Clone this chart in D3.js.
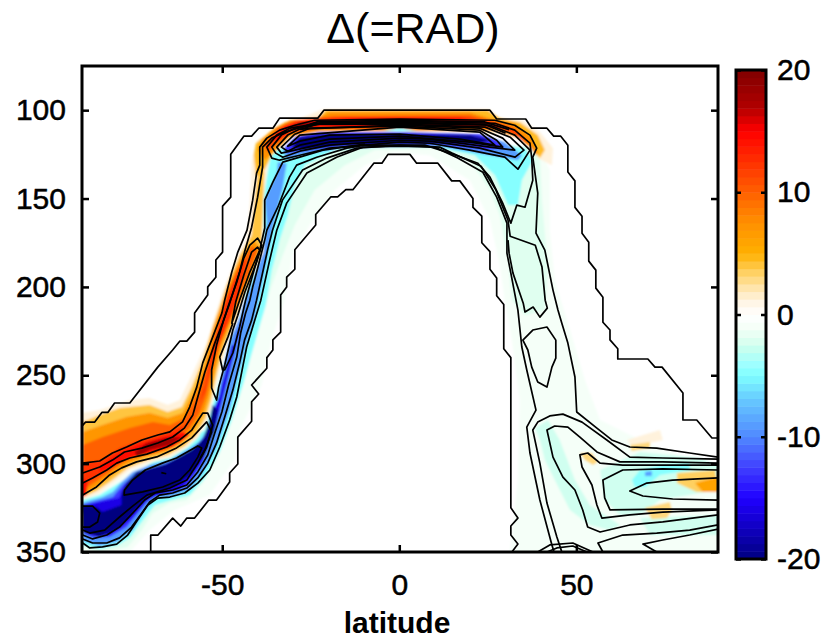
<!DOCTYPE html>
<html>
<head>
<meta charset="utf-8">
<script src="https://d3js.org/d3.v7.min.js"></script>
<style>
  html, body { margin: 0; background: #fff; }
  text { font-family: "Liberation Sans", Arial, sans-serif; fill: #000; }
  .tick-label { font-size: 30px; stroke: #000; stroke-width: 0.5px; }
</style>
</head>
<body>
<div id="chart"></div>
<script>
// axis ticks
const latTicks = [-50, 0, 50];
const presTicks = [100, 150, 200, 250, 300, 350];
const barTicks = [-20, -10, 0, 10, 20];

// colour bar stops (value, colour)
const stopValues = [-20, -17.5, -15, -12.5, -10, -7, -5, -4, -3, -2, -1, 0, 1, 2, 3.5, 5, 7.5, 10, 12.5, 15, 17, 20];
const stopColors = ["#000080", "#1000c0", "#2000ff", "#4040ff", "#5088ff", "#66c8ff", "#7fffff", "#a0ffff", "#c0fff0", "#e0fff0", "#f5fff8", "#ffffff",
    "#fff5e5", "#ffe8b8", "#ffd060", "#ffb000", "#ff9000", "#ff6000", "#ff3000", "#ff0000", "#b00000", "#800000"];

// shaded field, isolines of the anomaly as [lat, pressure]
const paleBase = [[-89.7,320.6],[-89.7,350],[-76.1,350],[-70.5,337.6],[-63.5,326.2],[-53.6,317.8],[-46.5,298],[-45.1,281],[-40.9,264],[-38.9,255.5],[-36.1,230.1],[-32.4,207.5],[-30.2,182],[-25.3,165],[-18.2,145.2],[-9.7,131.1],[-1.3,123.8],[8.6,125.5],[19.9,139.6],[25.6,162.2],[28.4,187.7],[29.8,207.5],[31.8,230.1],[34,264],[33.5,309.3],[31.2,350],[90,350],[90,303.6],[68,286.6],[56.7,275.3],[52.4,252.7],[48.2,224.4],[43.9,196.2],[42.5,167.9],[42.5,133.9],[39.7,122.6],[0.1,111.9],[-38.9,122.6],[-45.1,207.5],[-56.4,281]];
const mintArch = [[-89.4,347.1],[-85.5,350],[-80.9,348.8],[-76.7,347.1],[-72.7,337.6],[-69.6,327.9],[-64.8,322.3],[-60,320.6],[-55.5,311],[-51.6,298],[-47.9,279.3],[-45.1,262.3],[-43.1,248.7],[-40.9,231.8],[-38.6,216.5],[-36,199],[-32.9,182],[-29.5,165],[-23.9,145.2],[-15.4,131.1],[-6.9,122.6],[10,121.5],[19.9,128.3],[25.6,145.2],[28.4,159.4],[30.7,184.8],[31.8,207.5],[35.5,216],[41.1,213.1],[42,190.5],[40.3,150.9],[39.7,125.5],[36.9,120.9],[0.1,113],[-36.6,122.6],[-43.7,207.5],[-54.9,281],[-84.6,317.8],[-89.4,320.6]];
const mintLobe = [[38.3,279.9],[42,275.3],[45.3,286.6],[49.6,309.3],[53.8,323.4],[62.3,334.7],[59.5,337.6],[53.8,334.7],[48.2,326.2],[43.9,309.3],[41.1,298],[39.7,286.6]];
const mintUpper = [[56.7,303.6],[68,293.4],[84.9,296.8],[90,300.8],[90,314.9],[73.6,320.6],[68,329],[62.3,329],[58,320.6]];
const mintLower = [[68,330.8],[90,329],[90,340.4],[70.8,340.4]];
const cyanArch = [[-89.4,346],[-84.6,348.3],[-79.8,346.5],[-76.1,342],[-71.9,330.8],[-69,323.4],[-64.3,320.6],[-59.2,317.8],[-54.9,308.1],[-50.7,293.4],[-47.3,275.3],[-44.2,255.5],[-42.2,241.4],[-40,226.1],[-37.7,210.3],[-36,190.5],[-33.8,173.5],[-31.5,159.4],[-29.5,142.4],[-26.7,131.1],[-18.2,122.6],[-6.9,120.9],[10,120.9],[21.3,125.5],[27,136.8],[30.7,153.7],[33.5,153.7],[34.6,139.6],[37.7,128.3],[35.5,121.5],[0.1,112.4],[-36,122.6],[-43.7,207.5],[-54.9,281],[-84.6,317.8],[-89.4,320.6]];
const cyanRight = [[65.7,309.3],[68,303.6],[74.4,300.8],[82,299.7],[82,303.6],[73.6,306.4],[69.4,313.2],[66.5,313.2]];
const blueDot = [[69.4,304.7],[71.3,304.2],[71.3,307],[69.4,307]];
const blueSlant = [[-89.7,322.3],[-83.8,318.9],[-80.9,316],[-78.4,310.4],[-75.3,304.7],[-70.5,300.8],[-64.8,298],[-60,292.3],[-56.4,287.7],[-53.5,278.2],[-51.6,265.7],[-49.9,247],[-47.9,230.1],[-45.1,217.1],[-44.2,210.3],[-41.4,197.3],[-38.6,180.3],[-38,172.4],[-37.4,163.9],[-38,150.9],[-34.6,135.6],[-34.3,129.4],[-31.8,130],[-32.9,143.5],[-35.7,166.2],[-37.4,184.8],[-40.8,217.1],[-43.1,231.8],[-45.6,251],[-47.9,269.7],[-51.6,290.6],[-55.5,305.3],[-59.2,314.9],[-64.8,318.9],[-68.5,318.9],[-71.9,326.2],[-75.3,337.6],[-79.8,344.4],[-84.6,346.6],[-89.4,343.8]];
const royalSlant = [[-89.7,323.4],[-80.9,318.9],[-78.1,312.1],[-74.2,305.3],[-70.5,302.4],[-64.8,299.7],[-60,294.6],[-56.9,290.6],[-54.1,282.1],[-51.6,269.7],[-50.1,254.4],[-47.9,241.4],[-45.9,226.1],[-43.6,214.8],[-45.9,231.8],[-48.7,254.4],[-51.6,277],[-55.5,299.7],[-60,313.2],[-66.8,316],[-71.3,321.7],[-77,335.9],[-81.8,341.5],[-86.6,342],[-89.4,339.3]];
const deepSlant = [[-89.7,324],[-79.2,319.4],[-77.2,311.5],[-73.4,304.7],[-66.3,300.2],[-59.2,293.4],[-54.9,284.4],[-52.6,269.7],[-50.7,261.2],[-49.3,250],[-47.3,233],[-46.2,233],[-49,255.5],[-52.1,281],[-56.4,300.8],[-62,315],[-70.5,319.4],[-76.1,331.9],[-81.8,340.4],[-89.4,338.7]];
const navyBlob = [[-89.7,323.4],[-85.5,324.5],[-83.8,327.4],[-78.4,323.4],[-78.4,316],[-77,310.9],[-74.2,304.7],[-65.7,300.2],[-58.3,291.7],[-55.5,286.6],[-53.5,275.3],[-52.7,266.8],[-51.3,269.7],[-52.1,281],[-54.9,295.1],[-59.2,306.4],[-63.5,313.2],[-70.5,317.8],[-74.7,326.2],[-79,336.4],[-84.6,341.5],[-89.4,338.7]];
const blueTop = [[-32.9,122.6],[-29.5,115.3],[-22.5,112.4],[0.1,112.4],[22.7,113.6],[29.8,118.1],[34.6,125.5],[33.5,128.3],[25.6,125.5],[11.4,120.4],[0.1,120.4],[-16.8,121.5],[-28.1,125.5],[-31.8,128.3]];
const royalTop = [[-32.6,121.5],[-29,114.7],[-22.5,112.4],[0.1,112.4],[22.7,113.6],[27.5,117],[29.8,121.5],[24.2,122.6],[11.4,119.8],[0.1,119.8],[-16.8,120.9],[-28.1,123.2],[-31.5,124.3]];
const navyTop = [[-30.4,121],[-28.1,115.3],[-19.7,113.6],[0.1,113.6],[19.9,114.1],[26.1,117],[22.7,118.7],[0.1,119.2],[-16.8,119.8],[-26.7,122.6]];

const warmOuter = [[-89.7,271.4],[-84.6,269.7],[-76.1,264],[-70.5,262.9],[-65.4,266.8],[-62,264],[-58.3,248.7],[-54.4,231.8],[-49.9,202.9],[-46.5,186],[-43.1,172.4],[-42.2,152.6],[-41.7,128.3],[-40,117],[-32.9,108.5],[-21.6,99.5],[25.6,99.5],[28.4,104.5],[34.9,105.7],[39.7,112.4],[43.4,121.5],[43.1,131.1],[39.1,127.1],[38.8,122.6],[36.3,118.1],[29.8,114.1],[22.7,112.4],[0.1,111.9],[-22.5,111.9],[-31,115.3],[-34.3,122.6],[-36.6,126.6],[-37.4,135.6],[-38.3,150.9],[-38.3,173.5],[-38.3,180.3],[-41.4,194.5],[-44.2,207.5],[-45.9,218.8],[-48.7,232.9],[-50.7,247],[-52.7,264],[-54.1,275.3],[-56.9,285.5],[-60,291.2],[-64.8,296.8],[-70.5,299.7],[-76.1,303.6],[-80.9,311],[-84.6,316.6],[-89.4,320.6]];
const warm3 = [[-89.4,276.5],[-84.6,272.5],[-79,268.5],[-70.5,266.8],[-65.4,270.8],[-61.4,268],[-58.6,256.7],[-55.5,241.4],[-52.7,222.7],[-48.7,199],[-45,182],[-41.7,170.7],[-40.8,150.9],[-40,135],[-38.1,135],[-38.9,173.5],[-38.9,180.3],[-41.7,194.5],[-44.5,207.5],[-46.5,218.8],[-49.3,232.9],[-51.3,247],[-53.2,264],[-54.7,274.2],[-57.5,284.4],[-60.6,290],[-65.4,295.1],[-71,298],[-76.7,302.5],[-81.8,310.4],[-85.5,315.5],[-89.4,318.9]];
const warm5 = [[-89.4,282.1],[-83.8,278.2],[-77,273.6],[-70.5,271.4],[-65.4,274.2],[-61.2,271.4],[-57.8,258.4],[-54.9,243.1],[-52.7,224.4],[-48.5,200.1],[-44.8,183.7],[-41.1,173.5],[-39.4,177.5],[-42,193.3],[-44.8,206.3],[-47,217.6],[-49.9,231.8],[-51.8,245.9],[-53.8,262.8],[-55.5,273],[-58.3,282],[-61.4,288.3],[-66.2,293.4],[-71.9,296.2],[-77.3,300.8],[-82.4,308.7],[-86,313.8],[-89.4,317.2]];
const warm8 = [[-89.4,289.5],[-83.8,284.9],[-76.1,279.9],[-69.6,276.5],[-64.8,278.2],[-60.6,274.2],[-56.9,260],[-54.1,243.1],[-52.1,228.4],[-49,205.8],[-45.6,189.4],[-41.7,176.9],[-40,179.2],[-42.5,192.8],[-45.3,205.2],[-47.6,216.5],[-50.4,230.1],[-52.4,244.2],[-54.4,261.2],[-56.4,271.4],[-59.2,279.9],[-62.6,286.6],[-67.1,291.7],[-72.5,294.6],[-77.8,299],[-82.9,306.4],[-86.6,311.5],[-89.4,314.9]];
const warm11 = [[-88.8,299.7],[-83.8,298],[-79,291.2],[-72.7,286.6],[-65.7,282.7],[-60.6,278.2],[-57.2,269.7],[-54.9,255.5],[-52.7,232.9],[-49.9,213.1],[-47,197.3],[-44.2,186],[-43.1,183.7],[-45.1,204.6],[-47.3,216],[-50.1,229],[-53,244.2],[-54.9,259.5],[-59.2,276.5],[-63.2,284.4],[-67.7,289.5],[-72.7,292.3],[-78.1,297.4],[-83.2,304.7],[-86.9,309.3],[-89.7,313.8],[-89.7,299.7]];
const red14 = [[-84.6,301.9],[-81,296.3],[-74.2,289.5],[-66.8,284.9],[-61.2,282.1],[-59.2,283.8],[-64,290.6],[-69.6,294],[-76.1,296.8],[-81,301.9],[-84.6,304.7]];
const redAxis = [[-89.7,307.6],[-88,311],[-88.3,317.8],[-89.7,318.9]];
const dark18 = [[-74.7,293.4],[-71.3,288.3],[-65.7,285.5],[-61.4,284.9],[-64.8,289.5],[-70.5,292.3],[-73.9,296.2]];
const top3 = [[-41.1,125.5],[-40.5,118.7],[-36,111.3],[-32.3,106.8],[-23,104.5],[-20.8,100],[25,100],[28.4,104.5],[34,106.8],[39.1,114.1],[41.1,122.6],[39.7,127.1],[37.1,121.5],[34,115.8],[27,111.9],[0.1,111.6],[-22.5,111.9],[-31,115.3],[-36,125.5],[-38.9,136.8],[-40.5,136.8]];
const top6 = [[-40,122.6],[-38.9,117],[-35.2,110.2],[-30.9,105.7],[-22.5,104],[-19.7,101.1],[19.9,101.1],[25.6,104.5],[32.6,107.4],[37.4,115.8],[39.1,123.8],[38.6,125.5],[36.9,120.9],[33.5,115.3],[27,111.3],[0.1,111.3],[-22.5,111.3],[-30.4,114.1],[-35.2,122.6],[-38,128.3]];
const top10 = [[-38.3,119.8],[-34.3,110.2],[-29.5,105.7],[-18.2,103.4],[19.9,102.8],[27,106.2],[32.6,110.2],[36.9,119.8],[35.5,118.1],[31.3,112.4],[25.6,110.2],[0.1,110.7],[-22.5,110.7],[-30.4,113],[-35.2,119.8],[-37.1,123.8]];
const top14 = [[-36.6,117],[-32.3,108.5],[-26.7,105.7],[-14,104],[17.1,104],[25.6,106.8],[31.3,111.3],[33.5,114.1],[28.4,109.6],[0.1,109.6],[-22.5,109.6],[-30.4,111.3],[-34.3,117]];
const top18 = [[-32.3,111.3],[-28.1,106.8],[0.1,105.1],[22.7,106.8],[29.8,111.3],[22.7,109],[0.1,108.5],[-22.5,108.5],[-29.5,110.2]];
const topLens = [[-4.7,111.3],[0.1,109.6],[4.9,111.3],[0.1,111.9]];
const patchFaint = [[64.3,286.6],[73.6,281],[74.4,286.6],[66,290.6]];
const patchA = [[65.1,289.4],[70.8,287.7],[70.8,291.2],[65.6,292.8]];
const patchB = [[51,294],[54.4,294],[56.1,299],[54.7,300.8],[52.4,298]];
const patchC = [[69.4,325],[76.4,321.7],[77,326.2],[75.6,330.8],[71.3,331.4]];
const patchD = [[78.4,305.3],[89.2,303.6],[90,316],[84,316],[78.4,311]];
const patchE = [[83.5,311],[90,307.6],[90,316],[85.7,316]];

// level of each shaded region, bottom layer first
const fillLevels = [-1, -2, -2.5, -2.5, -2.5, -4.8, -4.8, -9, -9, -13, -16, -20, -9, -13, -20,
    1.2, 4, 7, 10, 12.5, 14.5, 14.5, 18, 4.5, 7.5, 11, 14.5, 18, -4.5, 1.2, 3, 3, 3, 3.5, 6];
const fillRegions = [paleBase, mintArch, mintLobe, mintUpper, mintLower, cyanArch, cyanRight, blueDot, blueSlant, royalSlant, deepSlant, navyBlob, blueTop, royalTop, navyTop,
    warmOuter, warm3, warm5, warm8, warm11, red14, redAxis, dark18, top3, top6, top10, top14, top18, topLens, patchFaint, patchA, patchB, patchC, patchD, patchE];

// black contours as [lat, pressure]
const outerUpper = [[-89.7,279],[-88.6,276.5],[-86,276.5],[-84,271],[-82.3,271],[-80.4,265.7],[-76.1,265.7],[-68.2,245.4],[-64,235.7],[-62,230.7],[-60,230.7],[-57.8,225.6],[-57.8,214.8],[-54.1,204.6],[-54.1,200],[-51.8,194.5],[-51.8,184.8],[-49.9,180.3],[-49.9,154.3],[-47.6,149.2],[-47.6,125],[-43.9,114.7],[-41.7,114.7],[-39.7,110.2],[-35.7,110.2],[-33.8,104.5],[-23,104.5],[-21.3,100],[25.6,100],[27.5,105],[35.7,105],[37.4,110.2],[41.7,110.2],[43.6,114.7],[45.6,114.7],[47.6,119.8],[47.6,135],[49.6,140],[49.6,155],[51.6,160],[51.6,169.6],[53.5,174.7],[53.5,185.4],[55.5,190.5],[55.5,200.7],[57.5,205.8],[57.5,220],[59.5,224.4],[59.5,230],[61.7,235],[61.7,240.8],[70.2,240.8],[72.2,245.4],[74.2,245.4],[80.1,260],[80.1,275.3],[84,275.3],[88.3,285.5],[90,285.5]];
const outerLower = [[-70.2,350],[-70.2,340.5],[-68.2,340.5],[-64,330.8],[-61.7,335.3],[-60,330.8],[-57.8,330.8],[-53.8,320.6],[-51.6,320.6],[-47.9,310.4],[-47.9,305.3],[-45.6,300.2],[-45.6,285],[-41.7,276],[-41.7,265],[-39.7,260.6],[-41.7,255.5],[-37.4,246],[-37.4,240],[-35.7,235.7],[-35.7,230],[-33.5,225.6],[-33.5,204.6],[-31.8,200],[-31.8,194.5],[-29.5,190],[-29.5,179],[-23.6,165],[-23.6,159],[-19.3,149],[-17.4,149],[-15.1,145],[-13.1,145],[-7.2,130],[-4.9,130],[-3.2,125],[3,125],[4.9,130],[10.9,130],[14.8,140],[17.1,140],[20.8,150],[20.8,155],[23.3,160],[23.3,175],[25.6,180],[25.6,190],[27.5,195],[27.5,205],[29.5,210],[29.5,235],[31.5,240],[31.5,325],[33.5,330.8],[31.5,335.3],[31.5,340.4],[33.5,345.5],[31.8,350]];
const lineU1 = [[-89.4,299.7],[-84.6,298.5],[-81,294],[-77,290.6],[-72.7,286.6],[-68.2,283.8],[-64.8,282],[-61.2,276.4],[-59.2,268],[-57.2,256.7],[-55.5,243],[-52.7,228.4],[-50.1,214.8],[-49.3,207.5],[-47.3,191.6],[-45.6,180.3],[-43,167.9],[-41.4,150.9],[-40.3,135.6],[-39.4,131.1],[-39.4,120.9],[-37.4,115.8],[-33.8,111.3],[-29.5,108.5],[-23.9,105.7],[0.1,105.1],[27,105.7],[32.6,108.5],[36.9,114.1],[38.8,121.5],[37.7,126.6],[39.1,146.9],[38.6,169.6],[41.1,179.2],[43.4,201.8],[44.8,213.1],[45.9,220.5],[47.6,231.8],[49.6,251],[50.1,270.8],[55.8,279.9],[60,286.6],[65.1,290.6],[72.7,291.2],[82,294],[90,296.3]];
const lineU2 = [[-89.4,305.3],[-84.6,301.9],[-81,298],[-77.6,293.4],[-72.7,291.2],[-68.2,288.3],[-64,284.9],[-60.7,279.9],[-58.3,272.5],[-56.9,262.3],[-54.9,248.2],[-52.1,231.8],[-49.9,220.5],[-47.9,209.2],[-45.1,191.6],[-43.7,180.3],[-41.7,166.2],[-40,149.2],[-38.6,132.2],[-38.6,120.9],[-36,115.8],[-32.3,112.4],[-23.9,107.4],[0.1,106.2],[27,107.4],[32.6,111.3],[36.9,118.7],[37.4,127.1],[37.7,139.6],[35.5,154.9],[33.2,153.7],[31.5,163.9],[29.2,152.6],[25.6,137.9],[22.2,130],[14.3,124.3],[7.2,119.8],[-9.7,119.8],[-14.8,121.5],[-23.3,126.6],[-29,131.1],[-31,137.9],[-34.3,154.9],[-37.4,167.9],[-38,173.5],[-40,189.4],[-41.4,200.1],[-42.2,207.5],[-43.4,214.8],[-44.8,226.1],[-45.9,239.7],[-48.2,255.5],[-50.1,270.8],[-52.1,282.7],[-54.1,295.1],[-56.9,304.7],[-60,312.1],[-64,314.9],[-69,316.6],[-71.9,320.6],[-75.3,328],[-79,335.9],[-82.6,340.4],[-86.6,342.6],[-89.4,340.4]];
const lineA = [[-89.4,344.9],[-87.4,347.7],[-83.8,347.1],[-79.8,345.5],[-76.7,340.4],[-73.9,331.9],[-71,323.4],[-68.2,319.5],[-64.8,318.9],[-60.6,316.6],[-56.9,311],[-53.5,303.6],[-50.7,290.6],[-47.9,275.3],[-45.9,262.3],[-44.5,248.2],[-43.1,234],[-41.4,222.7],[-39.1,207.5],[-36.6,184.8],[-34.6,167.9],[-31.8,152.6],[-26.1,135.6],[-17.7,126.6],[-10.3,120.9],[0.1,120.4],[10,120.9],[16.5,127.1],[23.6,135.1],[27.5,149.2],[30.4,163.9],[30.4,180.9],[31.5,192.2],[33.5,213.1],[34.6,234],[36,247],[38.6,269.7],[36,279.3],[36.9,294],[39.7,320.6],[43.1,346],[43.7,350]];
const lineB = [[-89.4,342.6],[-86.6,344.9],[-82.6,344.9],[-79,342],[-75.6,335.9],[-72.7,327.9],[-70.5,321.7],[-67.7,317.8],[-64,316.6],[-60,313.8],[-56.9,308.1],[-54.1,299.7],[-51.6,288.3],[-49.3,273.6],[-47,258.4],[-45.1,243.1],[-43.7,230.1],[-41.7,218.8],[-40.3,207.5],[-37.2,179.2],[-35.8,167.9],[-33,150.9],[-27.3,133.9],[-20.5,127.1],[-12,121.5],[0.1,119.8],[11.4,120.9],[14.9,124.3],[23.1,131.7],[27.3,145.2],[30.7,162.2],[31.3,171.3],[38.4,176.4],[40.3,188.8],[41.2,207.5],[41.8,212],[39.7,217.1],[37.8,211.4],[35.5,214.2],[35,209.2],[32.1,192.2],[31,180.9],[30.7,173.5]];
const lineU3 = [[-89.4,311],[-86.6,308.1],[-82.6,303.6],[-79.8,299.7],[-76.1,296.8],[-71.3,294.6],[-65.7,290.6],[-62,286.6],[-58.6,281],[-55.5,271.4],[-54.1,271.4],[-52.7,278.2],[-54.4,290.6],[-56.9,299.7],[-60,309.3],[-64.8,313.8],[-71.3,317.8],[-75.3,324],[-79,330.2],[-83.2,337.6],[-87.4,339.3],[-89.4,337.6]];
const lineU4 = [[-89.4,317.7],[-85.5,313.2],[-81.8,306.4],[-78.4,302.4],[-74.2,299],[-68.5,296.2],[-62.9,291.1],[-58.6,285.4],[-54.4,276.4],[-53,282.1],[-54.9,292.3],[-56.2,296.8]];
const lineG = [[-47,220.5],[-48.4,228.4],[-50.7,239.7],[-49.9,247],[-49.3,247],[-47,237.4],[-45.1,222.7],[-43.4,207.5],[-41.4,193.3],[-39.4,179.2],[-38,166.7],[-38,157.7],[-38,150.9],[-35.7,140.7],[-32.9,129.4],[-28.1,126.6],[-21.6,122.6],[-9.7,119.2]];
const topDenseA = [[-28,110],[-23,106.5],[0.1,105.7],[24,106.6],[31,111]];
const topDenseB = [[-28,111],[-22,107.1],[0.1,106.8],[24,108],[30,113]];
const tick = [[-67.2,305.1],[-65.8,305.7]];
const lobeB = [[45.9,350],[44.5,341.5],[41.7,322.3],[39.7,299.7],[37.7,281],[39.1,276.5],[42.5,273],[46.2,272],[51.6,276.5],[58.6,286.6],[65.1,296.3],[74.4,296.8],[90,297.4]];
const lobeD = [[90,299.7],[74.4,299],[62.3,299],[55.8,293.4],[51,285],[47.6,279.3],[43.9,278.7],[41.7,281],[43.4,296.3],[46.2,307.6],[49.6,314.9],[51.8,326.2],[53.2,335.9],[56.7,338.7],[65.1,334.7],[74.4,333],[90,329]];
const lobeE = [[90,300.8],[74.4,300.8],[63.1,300.8],[56.7,299.7],[53.2,294],[51,295],[51.6,301.9],[54.4,312.1],[55.8,323.4],[57.2,330.8],[65.1,329],[74.4,327.4],[90,326.2]];
const lobeF = [[90,303.6],[74.4,303],[63.1,303.6],[57.5,309.3],[58,319.4],[59.5,326.2],[74.4,325.7],[90,325.7]];
const lobeG = [[90,308.1],[77.2,309.3],[69.9,311],[65.1,315.5],[68.8,318.3],[77.2,320],[90,320.6]];
const lobeH = [[90,334.7],[82,337.6],[72.7,339.3],[63.1,340.4],[56.1,344.9],[57.5,350]];
const lobeI = [[90,337],[82,340.4],[74.4,343.2],[68.8,345.5],[72.7,350]];
const arcOuter = [[39.1,350],[42.5,346],[49,344.9],[54.7,350]];
const arcInner = [[41.7,350],[44.5,347.7],[49,346.6],[53,350]];
const openLines = [outerUpper, outerLower, lineU1, lineU2, lineA, lineB, lineU3, lineU4, lineG, topDenseA, topDenseB, tick, lobeB, lobeD, lobeE, lobeF, lobeG, lobeH, lobeI, arcOuter, arcInner];

const blobE = [[-77.6,315],[-75.3,309.3],[-71.7,303.6],[-66.9,299.7],[-62.9,296.8],[-56.9,290],[-55.8,291.2],[-56.9,296.3],[-59.2,303.6],[-62,309.3],[-66.8,313.2],[-72.5,316],[-77.7,317.8]];
const blobF = [[-90,324],[-86.6,324],[-84.6,328],[-85.2,333],[-87.4,335.9],[-90,335.9]];
const loopK1 = [[-40,172.4],[-42.2,176.4],[-43.9,183.7],[-45.9,197.3],[-48.2,210.3],[-49.6,218.8],[-51.6,232.9],[-53,247],[-53,257.2],[-51.6,264],[-51,256.7],[-49.3,244.2],[-47,224.4],[-45.6,216],[-43.6,202.9],[-40.3,186],[-38.8,176.4]];
const loopK2 = [[-40,177.5],[-41.7,180.3],[-43.9,193.3],[-46.2,208.6],[-47.3,220.5],[-45.1,207.5],[-42.2,191.6],[-39.4,179.2]];
const pocketR = [[34.9,230.1],[37.7,224.4],[41.7,222.7],[44.2,230.1],[44.2,240.3],[43.1,245.4],[41.7,256.7],[39.1,253.8],[37.4,245.4],[36.3,235.7]];
const capC1 = [[-37.4,120.9],[-34.6,114.1],[-30.9,110.2],[-22.5,107.4],[0.1,107.4],[25.6,108.5],[32.6,114.1],[36.9,122.6],[33.5,133.4],[29.8,126.6],[19.9,122.6],[8.6,118.7],[0.1,118.1],[-19.7,121.5],[-28.1,125.5],[-33.8,128.3],[-36,127.1]];
const capC2 = [[-36,120.9],[-33.3,114.1],[-29.5,110.2],[-22.5,107.9],[0.1,107.9],[24.2,109.6],[31.3,115.3],[35.2,122.6],[32.7,126.6],[22.7,121.5],[8.6,117.5],[0.1,117],[-19.7,119.8],[-28.1,123.2],[-32.9,126.6],[-34.9,124.3]];
const capC3 = [[-34.6,120.9],[-31.5,114.1],[-28.1,110.7],[0.1,108.5],[22.7,110.2],[29.2,115.8],[32.6,122.6],[25.6,120.9],[8.6,116.4],[0.1,115.8],[-19.7,118.1],[-29.5,122.6],[-33.3,124.3]];
const capC4 = [[-33.3,120.9],[-29.5,113.6],[-25.3,110.2],[0.1,109],[22.7,111.3],[27.5,117],[29.2,120.9],[19.9,118.1],[0.1,114.7],[-19.7,116.4],[-28.1,119.8],[-31.5,123.2]];
const capC5 = [[-31.5,120.4],[-28.1,114.1],[0.1,109.6],[22.7,112.4],[27,119.8],[17.1,116.4],[0.1,113.6],[-19.7,114.1],[-28.1,117.5]];
const closedLines = [blobE, blobF, loopK1, loopK2, pocketR, capC1, capC2, capC3, capC4, capC5];

// page layout
const width = 831, height = 639;
const margin = {left: 82, right: 113, top: 66, bottom: 87};

const svg = d3.select("#chart").append("svg")
    .attr("width", width)
    .attr("height", height)
    .style("display", "block");

const x = d3.scaleLinear().domain([-89.6, 90]).range([margin.left, width - margin.right]);
const y = d3.scaleLinear().domain([75, 350]).range([margin.top, height - margin.bottom]);
const color = d3.scaleLinear().domain(stopValues).range(stopColors).clamp(true);

const defs = svg.append("defs");
defs.append("clipPath").attr("id", "plot-clip").append("rect")
    .attr("x", margin.left).attr("y", margin.top)
    .attr("width", width - margin.left - margin.right)
    .attr("height", height - margin.top - margin.bottom);
defs.append("filter").attr("id", "soften")
    .attr("x", "-5%").attr("y", "-5%").attr("width", "110%").attr("height", "110%")
    .append("feGaussianBlur").attr("stdDeviation", 0.9);

const plot = svg.append("g").attr("clip-path", "url(#plot-clip)");

const path = d3.line().x(d => x(d[0])).y(d => y(d[1]));
const pathClosed = d3.line().x(d => x(d[0])).y(d => y(d[1])).curve(d3.curveLinearClosed);

// shaded field
plot.append("g").attr("filter", "url(#soften)")
    .selectAll("path")
    .data(fillRegions)
    .join("path")
    .attr("d", pathClosed)
    .attr("fill", (d, i) => color(fillLevels[i]));

// contours
plot.append("g").selectAll("path")
    .data(openLines)
    .join("path")
    .attr("d", path)
    .attr("fill", "none")
    .attr("stroke", "#000")
    .attr("stroke-width", 1.7)
    .attr("stroke-linejoin", "round");

plot.append("g").selectAll("path")
    .data(closedLines)
    .join("path")
    .attr("d", pathClosed)
    .attr("fill", "none")
    .attr("stroke", "#000")
    .attr("stroke-width", 1.7)
    .attr("stroke-linejoin", "round");

// axes, ticks point inward on all four sides
function styleAxis(g) {
    g.select(".domain").remove();
    g.selectAll(".tick line").attr("stroke", "#000").attr("stroke-width", 2.5);
    g.selectAll(".tick text").attr("class", "tick-label");
}

svg.append("g")
    .attr("transform", "translate(0," + y.range()[1] + ")")
    .call(d3.axisBottom(x).tickValues(latTicks).tickSizeInner(-7).tickSizeOuter(0).tickPadding(22).tickFormat(d => String(d)))
    .call(styleAxis)
    .attr("font-family", null).attr("font-size", null);

svg.append("g")
    .attr("transform", "translate(0," + y.range()[0] + ")")
    .call(d3.axisTop(x).tickValues(latTicks).tickSizeInner(-7).tickSizeOuter(0).tickFormat(""))
    .call(styleAxis);

svg.append("g")
    .attr("transform", "translate(" + margin.left + ",0)")
    .call(d3.axisLeft(y).tickValues(presTicks).tickSizeInner(-7).tickSizeOuter(0).tickPadding(16).tickFormat(d => String(d)))
    .call(styleAxis)
    .attr("font-family", null).attr("font-size", null);

svg.append("g")
    .attr("transform", "translate(" + (width - margin.right) + ",0)")
    .call(d3.axisRight(y).tickValues(presTicks).tickSizeInner(-7).tickSizeOuter(0).tickFormat(""))
    .call(styleAxis);

svg.append("rect")
    .attr("x", margin.left).attr("y", margin.top)
    .attr("width", width - margin.left - margin.right)
    .attr("height", height - margin.top - margin.bottom)
    .attr("fill", "none")
    .attr("stroke", "#000")
    .attr("stroke-width", 3);

// colour bar
const barLeft = 736, barWidth = 30, barSteps = 64;
const barY = d3.scaleLinear().domain([-20, 20]).range([559, 70]);
const barBands = d3.range(barSteps).map(i => -20 + (i + 0.5) * 40 / barSteps);

svg.append("g").selectAll("rect")
    .data(barBands)
    .join("rect")
    .attr("x", barLeft)
    .attr("width", barWidth)
    .attr("y", d => barY(d + 20 / barSteps))
    .attr("height", barY(-20) - barY(-20 + 40 / barSteps) + 0.5)
    .attr("fill", d => color(d));

svg.append("g")
    .attr("transform", "translate(" + barLeft + ",0)")
    .call(d3.axisLeft(barY).tickValues(barTicks).tickSizeInner(-5).tickSizeOuter(0).tickFormat(""))
    .call(styleAxis);

svg.append("g")
    .attr("transform", "translate(" + (barLeft + barWidth) + ",0)")
    .call(d3.axisRight(barY).tickValues(barTicks).tickSizeInner(-5).tickSizeOuter(0).tickPadding(11).tickFormat(d => String(d)))
    .call(styleAxis)
    .attr("font-family", null).attr("font-size", null);

svg.append("rect")
    .attr("x", barLeft).attr("y", barY(20))
    .attr("width", barWidth)
    .attr("height", barY(-20) - barY(20))
    .attr("fill", "none")
    .attr("stroke", "#000")
    .attr("stroke-width", 3);

// title and axis label
svg.append("text")
    .attr("x", 413).attr("y", 43)
    .attr("text-anchor", "middle")
    .attr("font-size", 43)
    .text("Δ(=RAD)");

svg.append("text")
    .attr("x", 397).attr("y", 633)
    .attr("text-anchor", "middle")
    .attr("font-size", 30)
    .attr("font-weight", "bold")
    .text("latitude");
</script>
</body>
</html>
